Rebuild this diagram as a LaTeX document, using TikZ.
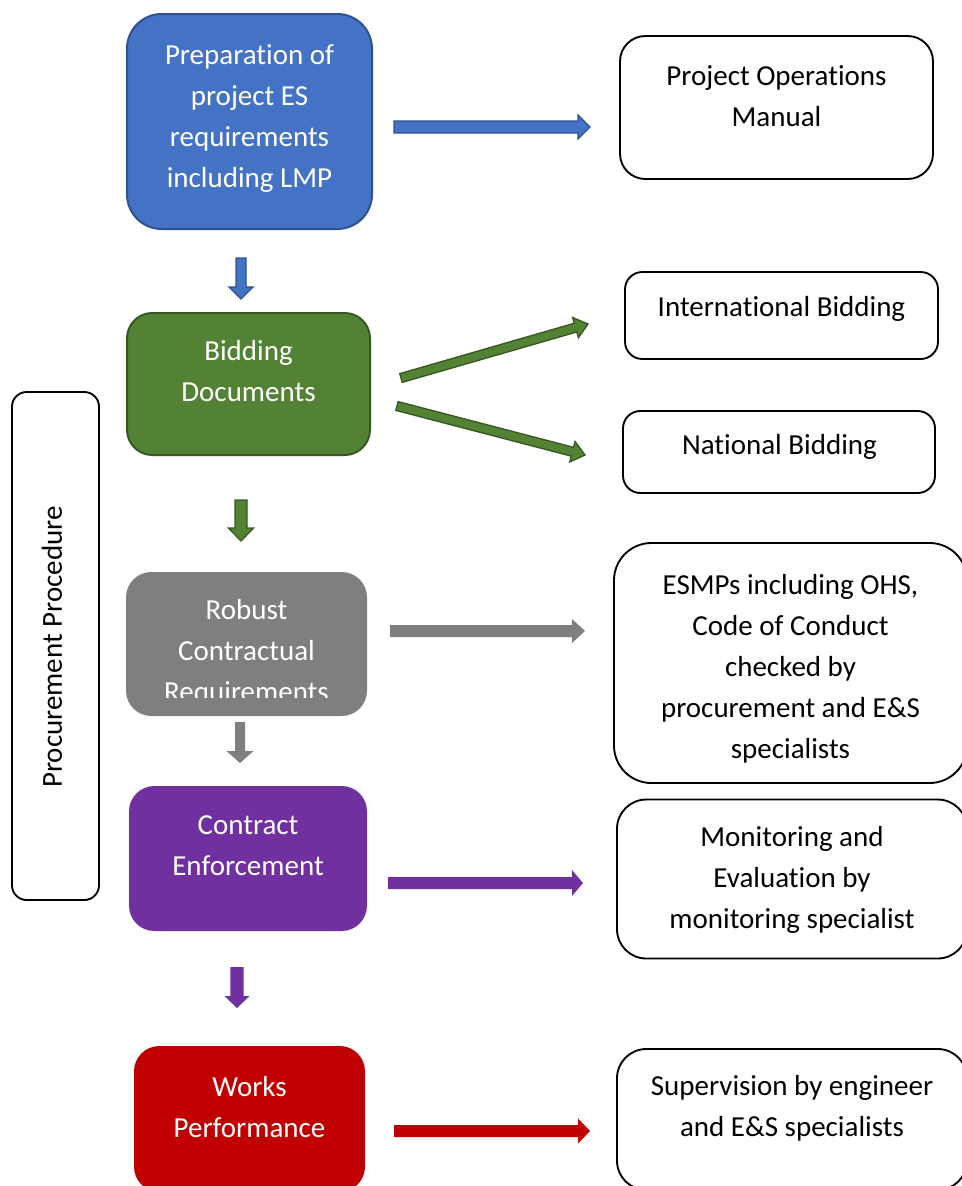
\documentclass[tikz,border=0pt]{standalone}
\usepackage{fontspec}
\setmainfont{Carlito}[Ligatures=NoCommon]
\usetikzlibrary{calc}
\definecolor{cblue}{HTML}{4472C4}
\definecolor{cbluedk}{HTML}{2F528F}
\definecolor{cgreen}{HTML}{548235}
\definecolor{cgreendk}{HTML}{385723}
\definecolor{cgrey}{HTML}{7F7F7F}
\definecolor{cpurple}{HTML}{7030A0}
\definecolor{cred}{HTML}{C00000}
% block arrow: [style]{from}{to}{shaft half}{head half}{head length}
\newcommand\blockarrow[6][]{%
  \path[#1] ($(#2)!#4!90:(#3)$)
    -- ($(#3)!#6!(#2)!#4!-90:(#2)$)
    -- ($(#3)!#6!(#2)!#5!-90:(#2)$)
    -- (#3)
    -- ($(#3)!#6!(#2)!#5!90:(#2)$)
    -- ($(#3)!#6!(#2)!#4!90:(#2)$)
    -- ($(#2)!#4!-90:(#3)$) -- cycle;}
\begin{document}
\begin{tikzpicture}[x=0.75pt,y=-0.75pt,
  stepbox/.style={rectangle, inner sep=0pt, line width=1.5pt},
  sidebox/.style={rectangle, inner sep=0pt, line width=1.4pt, draw=black, fill=white},
  wtxt/.style={text=white, align=center, inner sep=0pt, font=\fontsize{21.75}{30.75}\selectfont},
  btxt/.style={wtxt, text=black},
  bluearrow/.style={fill=cblue, draw=cbluedk, line width=1pt},
  greenarrow/.style={fill=cgreen, draw=cgreendk, line width=1pt},
  greyarrow/.style={fill=cgrey},
  purplearrow/.style={fill=cpurple},
  redarrow/.style={fill=cred}]
\clip (0,0) rectangle (962,1186);
\fill[white] (0,0) rectangle (962,1186);

% left column boxes
\node[stepbox, fill=cblue, draw=cbluedk, rounded corners=26pt, minimum width=183.75pt, minimum height=161.25pt] (prep) at (249.5,121.5) {};
\node[wtxt] (prep-t) at (249.5,118.5) {Preparation of\\project ES\\requirements\\including LMP};

\node[stepbox, fill=cgreen, draw=cgreendk, rounded corners=19pt, minimum width=182.25pt, minimum height=106.5pt] (bid) at (248.5,384) {};
\node[wtxt] (bid-t) at (248.5,371.5) {Bidding\\Documents};

\node[stepbox, fill=cgrey, rounded corners=19pt, minimum width=180.75pt, minimum height=108pt] (robust) at (246.5,644) {};
\begin{scope}
\clip (126,572) rectangle (367,697);
\node[wtxt] (robust-t) at (246.5,653) {Robust\\Contractual\\Requirements};
\end{scope}

\node[stepbox, fill=cpurple, rounded corners=19pt, minimum width=178.5pt, minimum height=108.75pt] (enforce) at (248,858.5) {};
\node[wtxt] (enforce-t) at (248,846) {Contract\\Enforcement};

\node[stepbox, fill=cred, rounded corners=19pt, minimum width=173.25pt, minimum height=109.5pt] (works) at (249.5,1119) {};
\node[wtxt] (works-t) at (249.5,1107) {Works\\Performance};

% right column boxes
\node[sidebox, rounded corners=19pt, minimum width=234.75pt, minimum height=107.25pt] (pom) at (776.5,107.5) {};
\node[btxt] (pom-t) at (776.5,96) {Project Operations\\Manual};

\node[sidebox, rounded corners=13pt, minimum width=234.75pt, minimum height=65.25pt] (intl) at (781.5,315.5) {};
\node[btxt] (intl-t) at (781.5,308.5) {International Bidding};

\node[sidebox, rounded corners=13pt, minimum width=234pt, minimum height=61.5pt] (natl) at (779,452) {};
\node[btxt] (natl-t) at (779.5,446.5) {National Bidding};

\node[sidebox, rounded corners=28pt, minimum width=264.75pt, minimum height=180pt] (esmp) at (790.5,663) {};
\node[btxt] (esmp-t) at (790.5,669) {ESMPs including OHS,\\Code of Conduct\\checked by\\procurement and E\&S\\specialists};

\node[sidebox, rounded corners=22pt, minimum width=262.5pt, minimum height=119.25pt] (mon) at (792,879) {};
\node[btxt] (mon-t) at (792,880) {Monitoring and\\Evaluation by\\monitoring specialist};

\node[sidebox, rounded corners=22pt, minimum width=262.5pt, minimum height=105.75pt] (sup) at (792,1119.5) {};
\node[btxt] (sup-t) at (792,1108.5) {Supervision by engineer\\and E\&S specialists};

% side label box
\node[sidebox, rounded corners=11pt, minimum width=65.25pt, minimum height=381pt] (proc) at (55.5,646) {};
\node[btxt, rotate=90] (proc-t) at (52,647) {Procurement Procedure};

% arrow end points
\coordinate (a1s) at (394,127);  \coordinate (a1e) at (590,127);
\coordinate (d1s) at (241,258);  \coordinate (d1e) at (241,299);
\coordinate (g1s) at (401,378);  \coordinate (g1e) at (588,324);
\coordinate (g2s) at (397,406);  \coordinate (g2e) at (585,455);
\coordinate (d2s) at (241,500);  \coordinate (d2e) at (241,541);
\coordinate (a3s) at (390,631);  \coordinate (a3e) at (585,631);
\coordinate (d3s) at (240,722);  \coordinate (d3e) at (240,763);
\coordinate (a4s) at (388,883);  \coordinate (a4e) at (583,883);
\coordinate (d4s) at (237,967);  \coordinate (d4e) at (237,1008);
\coordinate (a5s) at (394,1131); \coordinate (a5e) at (590,1131);

\blockarrow[bluearrow]{a1s}{a1e}{4.5pt}{9pt}{9pt}
\blockarrow[bluearrow]{d1s}{d1e}{3.75pt}{9pt}{9pt}
\blockarrow[greenarrow]{g1s}{g1e}{3.4pt}{7.9pt}{9.75pt}
\blockarrow[greenarrow]{g2s}{g2e}{3.4pt}{7.9pt}{9.75pt}
\blockarrow[greenarrow]{d2s}{d2e}{4.5pt}{9.4pt}{9.75pt}
\blockarrow[greyarrow]{a3s}{a3e}{4.5pt}{9pt}{9.75pt}
\blockarrow[greyarrow]{d3s}{d3e}{3.75pt}{10.1pt}{9pt}
\blockarrow[purplearrow]{a4s}{a4e}{4.5pt}{9.75pt}{8.25pt}
\blockarrow[purplearrow]{d4s}{d4e}{4.9pt}{9.4pt}{9pt}
\blockarrow[redarrow]{a5s}{a5e}{4.5pt}{9.4pt}{9pt}
\end{tikzpicture}
\end{document}
